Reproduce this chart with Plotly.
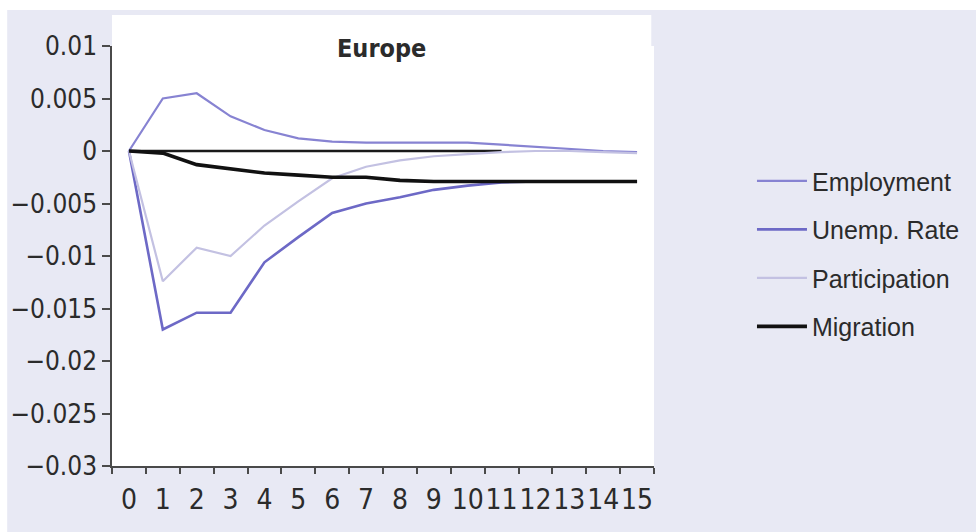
import plotly.graph_objects as go

# Impulse responses, Europe (periods 0-15)
periods = list(range(16))
tick_labels = [str(p) for p in periods]

employment = [0.0, 0.0050, 0.0055, 0.0033, 0.0020, 0.0012, 0.0009, 0.0008,
              0.0008, 0.0008, 0.0008, 0.0006, 0.0004, 0.0002, 0.0000, -0.0001]
unemp_rate = [0.0, -0.0170, -0.0154, -0.0154, -0.0106, -0.0082, -0.0059, -0.0050,
              -0.0044, -0.0037, -0.0033, -0.0030, -0.0029, -0.0029, -0.0029, -0.0029]
participation = [0.0, -0.0124, -0.0092, -0.0100, -0.0071, -0.0048, -0.0026, -0.0015,
                 -0.0009, -0.0005, -0.0003, -0.0001, 0.0000, 0.0000, -0.0001, -0.0002]
migration = [0.0, -0.0002, -0.0013, -0.0017, -0.0021, -0.0023, -0.0025, -0.0025,
             -0.0028, -0.0029, -0.0029, -0.0029, -0.0029, -0.0029, -0.0029, -0.0029]

# zero reference line
zero_periods = list(range(12))
zero_ref = [0.0] * 12

y_ticks = [0.01, 0.005, 0.0, -0.005, -0.01, -0.015, -0.02, -0.025, -0.03]
y_tick_labels = ["0.01", "0.005", "0", "\u22120.005", "\u22120.01", "\u22120.015",
                 "\u22120.02", "\u22120.025", "\u22120.03"]

NARROW = "DejaVu Sans Condensed, Liberation Sans Narrow, Liberation Sans, sans-serif"
TEXT = "#2b2b2b"
AXIS = "#4a4a4a"

fig = go.Figure()

fig.add_trace(go.Scatter(x=zero_periods, y=zero_ref, mode="lines",
                         line=dict(color="#1a1a1a", width=2.5),
                         showlegend=False, hoverinfo="skip"))

series = [
    ("Employment", employment, "#8783d2", 2.2),
    ("Unemp. Rate", unemp_rate, "#6d69c6", 2.6),
    ("Participation", participation, "#c3c1e2", 2.2),
    ("Migration", migration, "#111111", 3.6),
]
for name, vals, color, width in series:
    fig.add_trace(go.Scatter(x=periods, y=vals, mode="lines", name=name,
                             legendgroup=name,
                             line=dict(color=color, width=width)))

fig.add_annotation(text="<b>Europe</b>", xref="paper", yref="paper",
                   x=0.497, y=1.0, xanchor="center", yanchor="middle",
                   yshift=-2, showarrow=False,
                   font=dict(family=NARROW, size=25, color=TEXT))

# white panel behind the plot and the white page border
fig.add_shape(type="rect", xref="paper", yref="paper", x0=0, x1=0.995,
              y0=0, y1=1.074, fillcolor="white", line=dict(width=0), layer="below")
fig.add_shape(type="rect", xref="paper", yref="paper", x0=-0.3, x1=1.7,
              y0=1.0857, y1=1.2, fillcolor="white", line=dict(width=0), layer="below")
fig.add_shape(type="rect", xref="paper", yref="paper", x0=-0.3, x1=-0.1934,
              y0=-0.3, y1=1.2, fillcolor="white", line=dict(width=0), layer="below")

fig.update_xaxes(range=[-0.5, 15.5], tickmode="array", tickvals=periods,
                 ticktext=tick_labels, ticks="", tickangle=0, automargin=False,
                 ticklabelstandoff=8,
                 showgrid=False, zeroline=False,
                 showline=True, linecolor=AXIS, linewidth=1.5,
                 tickfont=dict(family=NARROW, size=28, color=TEXT),
                 minor=dict(tickmode="array",
                            tickvals=[p - 0.5 for p in periods] + [15.5],
                            ticks="outside", ticklen=6, tickwidth=1.5,
                            tickcolor=AXIS, showgrid=False))
fig.update_yaxes(range=[-0.03, 0.01], tickmode="array", tickvals=y_ticks,
                 ticktext=y_tick_labels, ticks="outside", ticklen=8,
                 automargin=False,
                 tickwidth=1.5, tickcolor=AXIS, showgrid=False, zeroline=False,
                 showline=True, linecolor=AXIS, linewidth=1.5,
                 tickfont=dict(family=NARROW, size=26, color=TEXT))

fig.update_layout(
    width=976, height=532,
    margin=dict(l=112, r=321, t=46, b=66),
    paper_bgcolor="#e8e9f4", plot_bgcolor="white",
    showlegend=True,
    legend=dict(x=1.1786, y=0.733, xanchor="left", yanchor="top",
                bgcolor="rgba(0,0,0,0)", tracegroupgap=13, itemwidth=50,
                font=dict(family="Liberation Sans, sans-serif", size=25, color=TEXT)),
)

fig.write_html("out.html")
